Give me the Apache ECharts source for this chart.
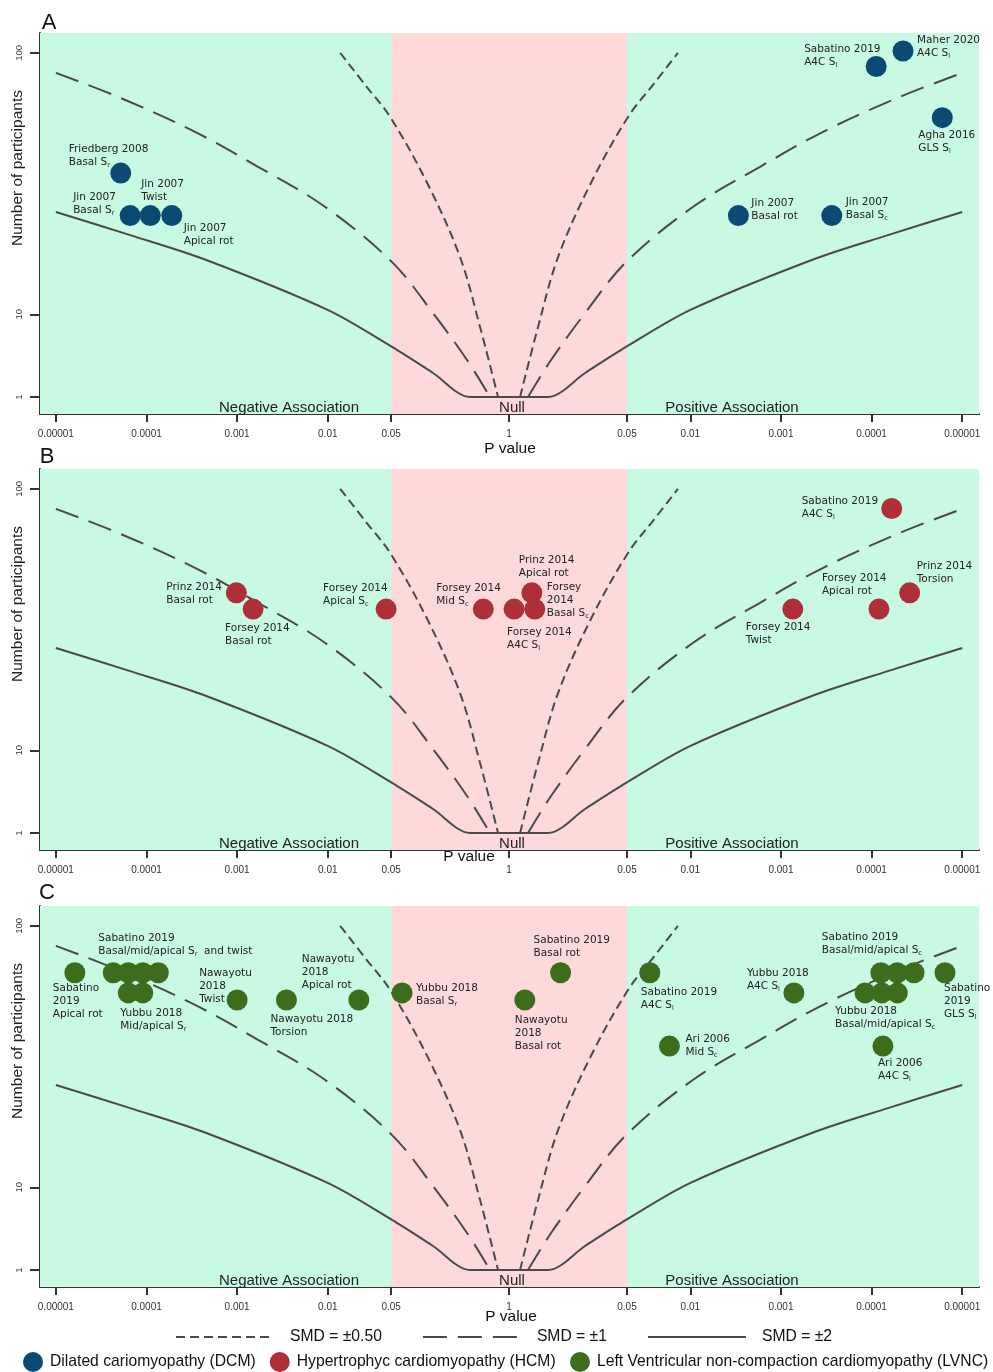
<!DOCTYPE html>
<html><head><meta charset="utf-8">
<script src="https://cdn.jsdelivr.net/npm/echarts@6/dist/echarts.min.js"></script>
<style>html,body{margin:0;padding:0;background:#fff}#c{width:993px;height:1372px}</style>
</head><body><div id="c"></div>
<script>
// ---------- axis ticks ----------
const xTickP = [0.00001, 0.0001, 0.001, 0.01, 0.05, 1];
const xTickLabels = ['0.00001', '0.0001', '0.001', '0.01', '0.05', '1'];
const yTickN = [1, 10, 100];
const yTickLabels = ['1', '10', '100'];

// ---------- Panel A: DCM ----------
const dcmLabels = ['Friedberg 2008\nBasal S_r', 'Jin 2007\nBasal S_r', 'Jin 2007\nTwist', 'Jin 2007\nApical rot',
  'Sabatino 2019\nA4C S_l', 'Maher 2020\nA4C S_l', 'Agha 2016\nGLS S_l', 'Jin 2007\nBasal rot', 'Jin 2007\nBasal S_c'];
const dcmP = [5.2e-5, 6.6e-5, 1.1e-4, 1.9e-4, 8.9e-5, 4.5e-5, 1.66e-5, 2.95e-3, 2.75e-4];
const dcmDir = [-1, -1, -1, -1, 1, 1, 1, 1, 1];
const dcmN = [47, 33, 33, 33, 93, 101, 69, 33, 33];

// ---------- Panel B: HCM ----------
const hcmLabels = ['Prinz 2014\nBasal rot', 'Forsey 2014\nBasal rot', 'Forsey 2014\nApical S_c', 'Forsey 2014\nMid S_c',
  'Forsey 2014\nA4C S_l', 'Prinz 2014\nApical rot', 'Forsey\n2014\nBasal S_c', 'Forsey 2014\nTwist',
  'Forsey 2014\nApical rot', 'Prinz 2014\nTorsion', 'Sabatino 2019\nA4C S_l'];
const hcmP = [9.8e-4, 1.5e-3, 0.044, 0.52, 0.88, 0.56, 0.52, 7.4e-4, 8.3e-5, 3.8e-5, 6.0e-5];
const hcmDir = [-1, -1, -1, -1, 1, 1, 1, 1, 1, 1, 1];
const hcmN = [53, 47, 47, 47, 47, 53, 47, 47, 47, 53, 90];

// ---------- Panel C: LVNC ----------
const lvncLabels = ['Sabatino\n2019\nApical rot', 'Sabatino 2019\nBasal/mid/apical S_r  and twist', '', '', '',
  'Yubbu 2018\nMid/apical S_r', '', 'Nawayotu\n2018\nTwist', 'Nawayotu 2018\nTorsion', 'Nawayotu\n2018\nApical rot',
  'Yubbu 2018\nBasal S_r', 'Nawayotu\n2018\nBasal rot', 'Sabatino 2019\nBasal rot', 'Sabatino 2019\nA4C S_l',
  'Ari 2006\nMid S_c', 'Yubbu 2018\nA4C S_l', 'Sabatino 2019\nBasal/mid/apical S_c', '', '',
  'Yubbu 2018\nBasal/mid/apical S_c', '', '', 'Ari 2006\nA4C S_l', 'Sabatino\n2019\nGLS S_l'];
const lvncP = [1.62e-5, 4.3e-5, 6.3e-5, 9.1e-5, 1.35e-4, 6.3e-5, 9.1e-5, 1.0e-3, 3.5e-3, 0.022, 0.066,
  0.67, 0.27, 0.028, 0.017, 7.2e-4, 7.9e-5, 5.2e-5, 3.4e-5, 1.18e-4, 7.7e-5, 5.2e-5, 7.5e-5, 1.55e-5];
const lvncDir = [-1, -1, -1, -1, -1, -1, -1, -1, -1, -1, -1, 1, 1, 1, 1, 1, 1, 1, 1, 1, 1, 1, 1, 1];
const lvncN = [77, 77, 77, 77, 77, 68, 68, 65, 65, 65, 68, 65, 77, 77, 47, 68, 77, 77, 77, 68, 68, 68, 47, 77];

// ---------- SMD contours (one branch, mirrored for the other side) ----------
const smd050P = [0.0137, 0.0258, 0.0487, 0.125, 0.288, 0.479, 0.756];
const smd050N = [100, 84, 69.3, 43.5, 21.7, 8.0, 1];
const smd1P = [1e-5, 4.86e-5, 3.1e-4, 1.7e-3, 9.3e-3, 0.0512, 0.145, 0.344, 0.617];
const smd1N = [89.8, 78.3, 63.8, 49.3, 35.7, 20.5, 10.2, 3.87, 1];
const smd2P = [1e-5, 6.6e-5, 4.2e-4, 0.0101, 0.0512, 0.145, 0.371];
const smd2N = [34.1, 27.4, 21.3, 10.7, 5.33, 2.65, 1];

// ---------- layout (label text top-left offsets from point centre, px) ----------
const dcmLabelPos = [[-52,-30.5],[-57,-24.5],[-9,-37.5],[12,6.5],[-72,-23.5],[14,-17.5],[-24,11.5],[13,-18.5],[14,-19.5]];
const hcmLabelPos = [[-70,-12.5],[-28,12.5],[-63,-27.5],[-47,-27.5],[-7,16.5],[-13,-39.5],[12,-28.5],[-47,11.5],[-57,-37.5],[7,-33.5],[-90,-13.5]];
const lvncLabelPos = [[-22,9.5],[-15,-40.5],[0,0],[0,0],[0,0],[-8,13.5],[0,0],[-38,-33.5],[-16,12.5],[-57,-47.5],
  [14,-11.5],[-10,13.5],[-27,-38.5],[-9,13.5],[16,-13.5],[-47,-26.5],[-59,-41.5],[0,0],[0,0],[-30,11.5],[0,0],[0,0],[-5,10.5],[-1,9.5]];

const panelTops = [33, 469, 906];
const GRID_H = 381, GRID_L = 40, GRID_W = 939;
const X_MIN = -5.175, X_MAX = 5.185, Y_MIN = 0.555, Y_MAX = 10.52;
const SYM = 21;
const COLORS = ['#0a4a73', '#ae2f38', '#3c6d1d'];
const LINE_C = '#4a4a4a';
const BG_GREEN = '#c8f9e2', BG_PINK = '#fdd9d9';
const NAMES = ['Dilated cariomyopathy (DCM)', 'Hypertrophyc cardiomyopathy (HCM)', 'Left Ventricular non-compaction cardiomyopathy (LVNC)'];
const SMD_NAMES = ['SMD = \u00b10.50', 'SMD = \u00b11', 'SMD = \u00b12'];

const xOf = (p, dir) => dir * (-Math.log10(p));
const yOf = n => Math.sqrt(n);

const xTickVals = [], xTickText = [];
xTickP.forEach((p, i) => { xTickVals.push(xOf(p, -1)); xTickText.push(xTickLabels[i]); });
for (let i = xTickP.length - 2; i >= 0; i--) { xTickVals.push(xOf(xTickP[i], 1)); xTickText.push(xTickLabels[i]); }
const yTickVals = yTickN.map(yOf);
function nearestLabel(v, vals, texts) {
  let bi = 0; vals.forEach((t, i) => { if (Math.abs(t - v) < Math.abs(vals[bi] - v)) bi = i; });
  return texts[bi];
}

const subRich = {
  sub: { fontSize: 6.5, lineHeight: 13, verticalAlign: 'bottom', fontFamily: 'DejaVu Sans', color: '#222' }
};
const fmtLabel = s => s.replace(/S_([a-z])/g, 'S{sub|$1}');

const grids = [], xAxes = [], yAxes = [], series = [], graphics = [];
const panels = [
  { labels: dcmLabels, P: dcmP, D: dcmDir, N: dcmN, pos: dcmLabelPos },
  { labels: hcmLabels, P: hcmP, D: hcmDir, N: hcmN, pos: hcmLabelPos },
  { labels: lvncLabels, P: lvncP, D: lvncDir, N: lvncN, pos: lvncLabelPos }
];

function branches(P, N) {
  const left = P.map((p, i) => [xOf(p, -1), yOf(N[i])]);
  const right = P.map((p, i) => [xOf(p, 1), yOf(N[i])]).reverse();
  return { left, right };
}
const c050 = branches(smd050P, smd050N), c1 = branches(smd1P, smd1N), c2 = branches(smd2P, smd2N);
const tf = 'Liberation Sans';

panels.forEach((pn, g) => {
  const top = panelTops[g];
  grids.push({ left: GRID_L, top: top, width: GRID_W, height: GRID_H });
  xAxes.push({
    type: 'value', gridIndex: g, min: X_MIN, max: X_MAX,
    axisLine: { show: true, onZero: false, lineStyle: { color: '#333', width: 2 } },
    splitLine: { show: false },
    axisTick: { show: true, customValues: xTickVals, length: 8, lineStyle: { color: '#333', width: 2 } },
    axisLabel: { show: true, customValues: xTickVals, margin: 15, fontSize: 10, color: '#333', fontFamily: tf,
      formatter: v => nearestLabel(v, xTickVals, xTickText) }
  });
  yAxes.push({
    type: 'value', gridIndex: g, min: Y_MIN, max: Y_MAX,
    axisLine: { show: true, onZero: false, lineStyle: { color: '#333', width: 2 } },
    splitLine: { show: false },
    axisTick: { show: true, customValues: yTickVals, length: 10, lineStyle: { color: '#333', width: 2 } },
    axisLabel: { show: true, customValues: yTickVals, rotate: 90, margin: 16, fontSize: 9.5, color: '#333', fontFamily: tf,
      formatter: v => nearestLabel(v, yTickVals, yTickLabels) }
  });
  series.push({
    type: 'line', name: 'bg' + g, xAxisIndex: g, yAxisIndex: g, data: [], z: 0, silent: true,
    markArea: { silent: true, data: [
      [{ xAxis: X_MIN, yAxis: Y_MIN, itemStyle: { color: BG_GREEN } }, { xAxis: xOf(0.05, -1), yAxis: Y_MAX }],
      [{ xAxis: xOf(0.05, -1), yAxis: Y_MIN, itemStyle: { color: BG_PINK } }, { xAxis: xOf(0.05, 1), yAxis: Y_MAX }],
      [{ xAxis: xOf(0.05, 1), yAxis: Y_MIN, itemStyle: { color: BG_GREEN } }, { xAxis: X_MAX, yAxis: Y_MAX }]
    ] }
  });
  const lineBase = { type: 'line', xAxisIndex: g, yAxisIndex: g, symbol: 'none', smooth: 0.35, silent: true, z: 2,
    itemStyle: { color: LINE_C } };
  series.push(Object.assign({}, lineBase, { name: SMD_NAMES[0], data: c050.left, lineStyle: { color: LINE_C, width: 2, type: [9, 5] } }));
  series.push(Object.assign({}, lineBase, { name: SMD_NAMES[0], data: c050.right, lineStyle: { color: LINE_C, width: 2, type: [9, 5] } }));
  series.push(Object.assign({}, lineBase, { name: SMD_NAMES[1], data: c1.left, lineStyle: { color: LINE_C, width: 2, type: [24, 11] } }));
  series.push(Object.assign({}, lineBase, { name: SMD_NAMES[1], data: c1.right, lineStyle: { color: LINE_C, width: 2, type: [24, 11] } }));
  series.push(Object.assign({}, lineBase, { name: SMD_NAMES[2], data: c2.left.concat(c2.right), smooth: 0.3, lineStyle: { color: LINE_C, width: 2, type: 'solid' } }));
  series.push({
    type: 'scatter', name: NAMES[g], xAxisIndex: g, yAxisIndex: g, z: 3,
    symbol: 'circle', symbolSize: SYM, itemStyle: { color: COLORS[g], opacity: 1 },
    data: pn.P.map((p, i) => ({
      value: [xOf(p, pn.D[i]), yOf(pn.N[i])],
      label: { position: [SYM / 2 + pn.pos[i][0], SYM / 2 + pn.pos[i][1]] }
    })),
    label: {
      show: true, align: 'left', verticalAlign: 'top', fontSize: 10.5, lineHeight: 13, color: '#222', fontFamily: 'DejaVu Sans',
      formatter: params => fmtLabel(pn.labels[params.dataIndex]), rich: subRich
    },
    labelLayout: { hideOverlap: false }
  });
  const bottom = top + GRID_H;
  graphics.push({ type: 'text', x: 289, y: bottom - 6.5, style: { text: 'Negative Association', fontSize: 15, fontFamily: tf, fill: '#222', align: 'center', verticalAlign: 'middle' }, z: 50 });
  graphics.push({ type: 'text', x: 512, y: bottom - 6.5, style: { text: 'Null', fontSize: 15, fontFamily: tf, fill: '#222', align: 'center', verticalAlign: 'middle' }, z: 50 });
  graphics.push({ type: 'text', x: 732, y: bottom - 6.5, style: { text: 'Positive Association', fontSize: 15, fontFamily: tf, fill: '#222', align: 'center', verticalAlign: 'middle' }, z: 50 });
  graphics.push({ type: 'text', x: 18, y: top + 135, rotation: Math.PI / 2, style: { text: 'Number of participants', fontSize: 15.5, fontFamily: tf, fill: '#222', align: 'center', verticalAlign: 'middle' }, z: 50 });
});
[['A', 49, 23], ['B', 47, 457], ['C', 47, 893]].forEach(t => graphics.push({ type: 'text', x: t[1], y: t[2], style: { text: t[0], fontSize: 22, fontFamily: tf, fill: '#111', align: 'center', verticalAlign: 'middle' }, z: 50 }));
[[510, 449], [469, 857], [511, 1317]].forEach(t => graphics.push({ type: 'text', x: t[0], y: t[1], style: { text: 'P value', fontSize: 15.5, fontFamily: tf, fill: '#111', align: 'center', verticalAlign: 'middle' }, z: 50 }));

const chart = echarts.init(document.getElementById('c'), null, { renderer: 'canvas' });
const legTxt = { fontSize: 15.7, fontFamily: tf, color: '#111' };
chart.setOption({
  animation: false,
  backgroundColor: '#fff',
  grid: grids, xAxis: xAxes, yAxis: yAxes, series: series, graphic: graphics,
  legend: [
    { data: SMD_NAMES, left: 175, top: 1329, padding: 0, itemWidth: 98, itemHeight: 16, itemGap: 40, selectedMode: false,
      itemStyle: { opacity: 0 }, textStyle: Object.assign({ padding: [0, 0, 0, 11] }, legTxt) },
    { data: NAMES.slice(0, 2), left: 23, top: 1352, padding: 0, itemWidth: 20, itemHeight: 20, itemGap: 14, icon: 'circle', selectedMode: false,
      textStyle: Object.assign({ padding: [0, 0, 0, 2] }, legTxt) },
    { data: NAMES.slice(2), left: 570, top: 1352, padding: 0, itemWidth: 20, itemHeight: 20, icon: 'circle', selectedMode: false,
      textStyle: Object.assign({ padding: [0, 0, 0, 2] }, legTxt) }
  ]
});
</script></body></html>
